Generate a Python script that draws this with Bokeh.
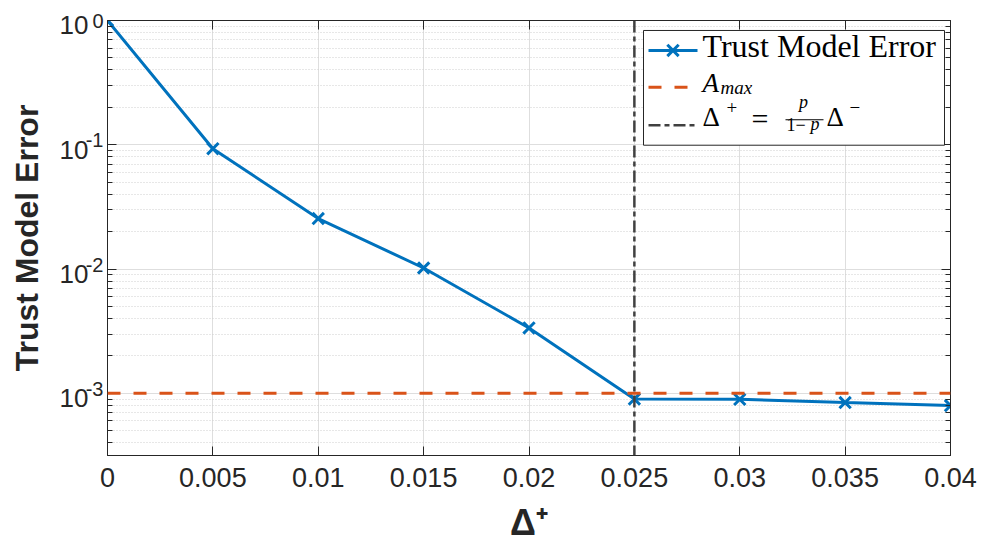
import math
from bokeh.plotting import figure
from bokeh.models import (Range1d, FixedTicker, CustomJSTickFormatter, LinearAxis,
                          LogAxis, Span, BoxAnnotation, Label)
from bokeh.embed import file_html
from bokeh.resources import INLINE

# ---------------- data ----------------
delta_plus = [0.0, 0.005, 0.010, 0.015, 0.020, 0.025, 0.030, 0.035, 0.040]
trust_model_error = [1.0, 0.093, 0.0255, 0.0102, 0.00336, 0.00090, 0.000895, 0.000843, 0.000798]
a_max = 1e-3
delta_threshold = 0.025

x_ticks = [0.0, 0.005, 0.010, 0.015, 0.020, 0.025, 0.030, 0.035, 0.040]
x_tick_labels = ["0", "0.005", "0.01", "0.015", "0.02", "0.025", "0.03", "0.035", "0.04"]
y_ticks = [1e-3, 1e-2, 1e-1, 1.0]
y_tick_bases = ["10", "10", "10", "10"]
y_tick_exponents = ["-3", "-2", "-1", "0"]
y_minor_ticks = [k * 10.0 ** e for e in (-4, -3, -2, -1) for k in range(2, 10)]

X_MIN, X_MAX = 0.0, 0.04
Y_MIN, Y_MAX = 10 ** -3.5, 1.0

# ---------------- layout ----------------
W, H = 984, 545
BL, BR, BT, BB = 107, 34, 20, 89
FL, FR, FT, FB = BL, W - BR, BT, H - BB
LABEL_DY = 11  # empirical baseline correction for Label

TXT = "#262626"
BLUE = "#0072BD"
ORANGE = "#D95319"
GRAY = "#404040"
SANS = "Liberation Sans"
SERIF = "Liberation Serif"

DECADE_PX = (FB - FT) / (math.log10(Y_MAX) - math.log10(Y_MIN))


def px2x(px):
    return X_MIN + (px - FL) / (FR - FL) * (X_MAX - X_MIN)


def py2y(py):
    lo, hi = math.log10(Y_MIN), math.log10(Y_MAX)
    return 10 ** (lo + (FB - py) / (FB - FT) * (hi - lo))


p = figure(width=W, height=H, x_range=Range1d(X_MIN, X_MAX), y_range=Range1d(Y_MIN, Y_MAX),
           y_axis_type="log", output_backend="svg", toolbar_location=None,
           min_border_left=BL, min_border_right=BR, min_border_top=BT, min_border_bottom=BB)
p.outline_line_color = TXT
p.background_fill_color = "white"
p.border_fill_color = "white"

# "10" labels sit a few pixels below the tick: shifted copy of the y range
base_shift = 10 ** (5 / DECADE_PX)
p.extra_y_ranges = {"base": Range1d(Y_MIN * base_shift, Y_MAX * base_shift)}
# exponents sit a few pixels above the tick (top one cannot leave the range)
exp_shift = 10 ** (4.5 / DECADE_PX)
exp_positions = [min(t * exp_shift, Y_MAX) for t in y_ticks]

pick = """
let best = 0;
for (let i = 0; i < vals.length; i++) {
  if (Math.abs(Math.log(vals[i]) - Math.log(tick)) < Math.abs(Math.log(vals[best]) - Math.log(tick))) best = i;
}
return labs[best];
"""
pick_lin = """
let best = 0;
for (let i = 0; i < vals.length; i++) {
  if (Math.abs(vals[i] - tick) < Math.abs(vals[best] - tick)) best = i;
}
return labs[best];
"""
blank = CustomJSTickFormatter(code="return '';")

xt = FixedTicker(ticks=x_ticks, minor_ticks=[])
yt = FixedTicker(ticks=y_ticks, minor_ticks=y_minor_ticks)

xa = p.xaxis[0]
xa.ticker = xt
xa.formatter = CustomJSTickFormatter(args=dict(vals=x_ticks, labs=x_tick_labels), code=pick_lin)
xa.axis_label = "\u0394\u207a"
xa.major_label_text_font = SANS
xa.major_label_text_font_size = "27px"
xa.major_label_text_color = TXT
xa.axis_label_text_font = SANS
xa.axis_label_text_font_style = "bold"
xa.axis_label_text_font_size = "36px"
xa.axis_label_text_color = TXT
xa.major_label_standoff = 12
xa.axis_label_standoff = 12

ya = p.yaxis[0]
ya.ticker = yt
ya.formatter = blank
ya.major_label_standoff = 0

for ax in (xa, ya):
    ax.axis_line_color = TXT
    ax.major_tick_line_color = TXT
    ax.minor_tick_line_color = TXT
    ax.major_tick_in = 9
    ax.major_tick_out = 0
    ax.minor_tick_in = 5
    ax.minor_tick_out = 0

p.xgrid.ticker = xt
p.ygrid.ticker = yt

# exponent labels (inner) and "10" labels (outer, carrying the axis title)
exp_axis = LogAxis(ticker=FixedTicker(ticks=exp_positions, minor_ticks=[]),
                   formatter=CustomJSTickFormatter(args=dict(vals=y_ticks, labs=y_tick_exponents), code=pick),
                   axis_line_color=None, major_tick_line_color=None, minor_tick_line_color=None,
                   major_tick_in=0, major_tick_out=0, minor_tick_in=0, minor_tick_out=0,
                   major_label_standoff=4, major_label_text_font=SANS,
                   major_label_text_font_size="20px", major_label_text_color=TXT)
base_axis = LogAxis(y_range_name="base", ticker=FixedTicker(ticks=y_ticks, minor_ticks=[]),
                    formatter=CustomJSTickFormatter(args=dict(vals=y_ticks, labs=y_tick_bases), code=pick),
                    axis_line_color=None, major_tick_line_color=None, minor_tick_line_color=None,
                    major_tick_in=0, major_tick_out=0, minor_tick_in=0, minor_tick_out=0,
                    major_label_standoff=-6, major_label_text_font=SANS,
                    major_label_text_font_size="26px", major_label_text_color=TXT,
                    axis_label="Trust Model Error", axis_label_text_font=SANS,
                    axis_label_text_font_style="bold", axis_label_text_font_size="32px",
                    axis_label_text_color=TXT, axis_label_standoff=12)
p.add_layout(exp_axis, "left")
p.add_layout(base_axis, "left")

top = LinearAxis(ticker=xt, formatter=blank, major_tick_in=9, major_tick_out=0,
                 axis_line_color=TXT, major_tick_line_color=TXT, major_label_standoff=0)
right = LogAxis(ticker=yt, formatter=blank, major_tick_in=9, major_tick_out=0,
                minor_tick_in=5, minor_tick_out=0, axis_line_color=TXT,
                major_tick_line_color=TXT, minor_tick_line_color=TXT, major_label_standoff=0)
p.add_layout(top, "above")
p.add_layout(right, "right")

p.xgrid.grid_line_color = "#dedede"
p.ygrid.grid_line_color = "#dedede"
p.ygrid.minor_grid_line_color = "#cfcfcf"
p.ygrid.minor_grid_line_dash = "1 2"


def lab(px, py, text, size, style="normal", align="left", font=SERIF, color="black"):
    p.add_layout(Label(x=px2x(px), y=py2y(py - LABEL_DY), text=text, text_font=font,
                       text_font_size=f"{size}px", text_font_style=style, text_color=color,
                       text_baseline="alphabetic", text_align=align, level="overlay"))


# ---------------- series ----------------
p.line(delta_plus, trust_model_error, line_color=BLUE, line_width=3)
p.scatter(delta_plus, trust_model_error, marker="x", size=16, line_color=BLUE, line_width=3)

p.add_layout(Span(location=a_max, dimension="width", line_color=ORANGE, line_width=3,
                  line_dash="13 13"))
p.add_layout(Span(location=delta_threshold, dimension="height", line_color=GRAY,
                  line_width=2.5, line_dash="12 4 5 4"))

# ---------------- legend (custom, for math labels) ----------------
p.add_layout(BoxAnnotation(left=px2x(643), right=px2x(944), top=py2y(30), bottom=py2y(145),
                           fill_color="white", fill_alpha=1.0, line_color=TXT,
                           line_alpha=1.0, line_width=1))

k0, k1 = 648, 697
r1, r2, r3 = 50, 87, 125
p.line([px2x(k0), px2x(k1)], [py2y(r1), py2y(r1)], line_color=BLUE, line_width=3, level="overlay")
p.scatter([px2x((k0 + k1) / 2)], [py2y(r1)], marker="x", size=16, line_color=BLUE,
          line_width=3, level="overlay")
p.line([px2x(k0), px2x(k1)], [py2y(r2), py2y(r2)], line_color=ORANGE, line_width=3,
       line_dash="13 13", level="overlay")
p.line([px2x(k0), px2x(k1)], [py2y(r3), py2y(r3)], line_color=GRAY, line_width=2.5,
       line_dash="12 4 5 4", level="overlay")
p.line([px2x(785), px2x(823)], [py2y(119.5), py2y(119.5)], line_color="black", line_width=1.2,
       level="overlay")

lab(702, 57, "Trust Model Error", 32)
lab(702, 94, "A", 27, "italic")
lab(720, 98, "max", 19, "italic")
lab(702, 128, "\u0394", 27)
lab(726, 118, "+", 19)
lab(751, 129, "=", 30)
lab(803, 113, "p", 18, "italic", "center")
lab(786, 135, "1\u2212", 18)
lab(810, 135, "p", 18, "italic")
lab(826, 128, "\u0394", 27)
lab(849, 118, "\u2212", 19)

open("out.html", "w").write(file_html(p, INLINE))
